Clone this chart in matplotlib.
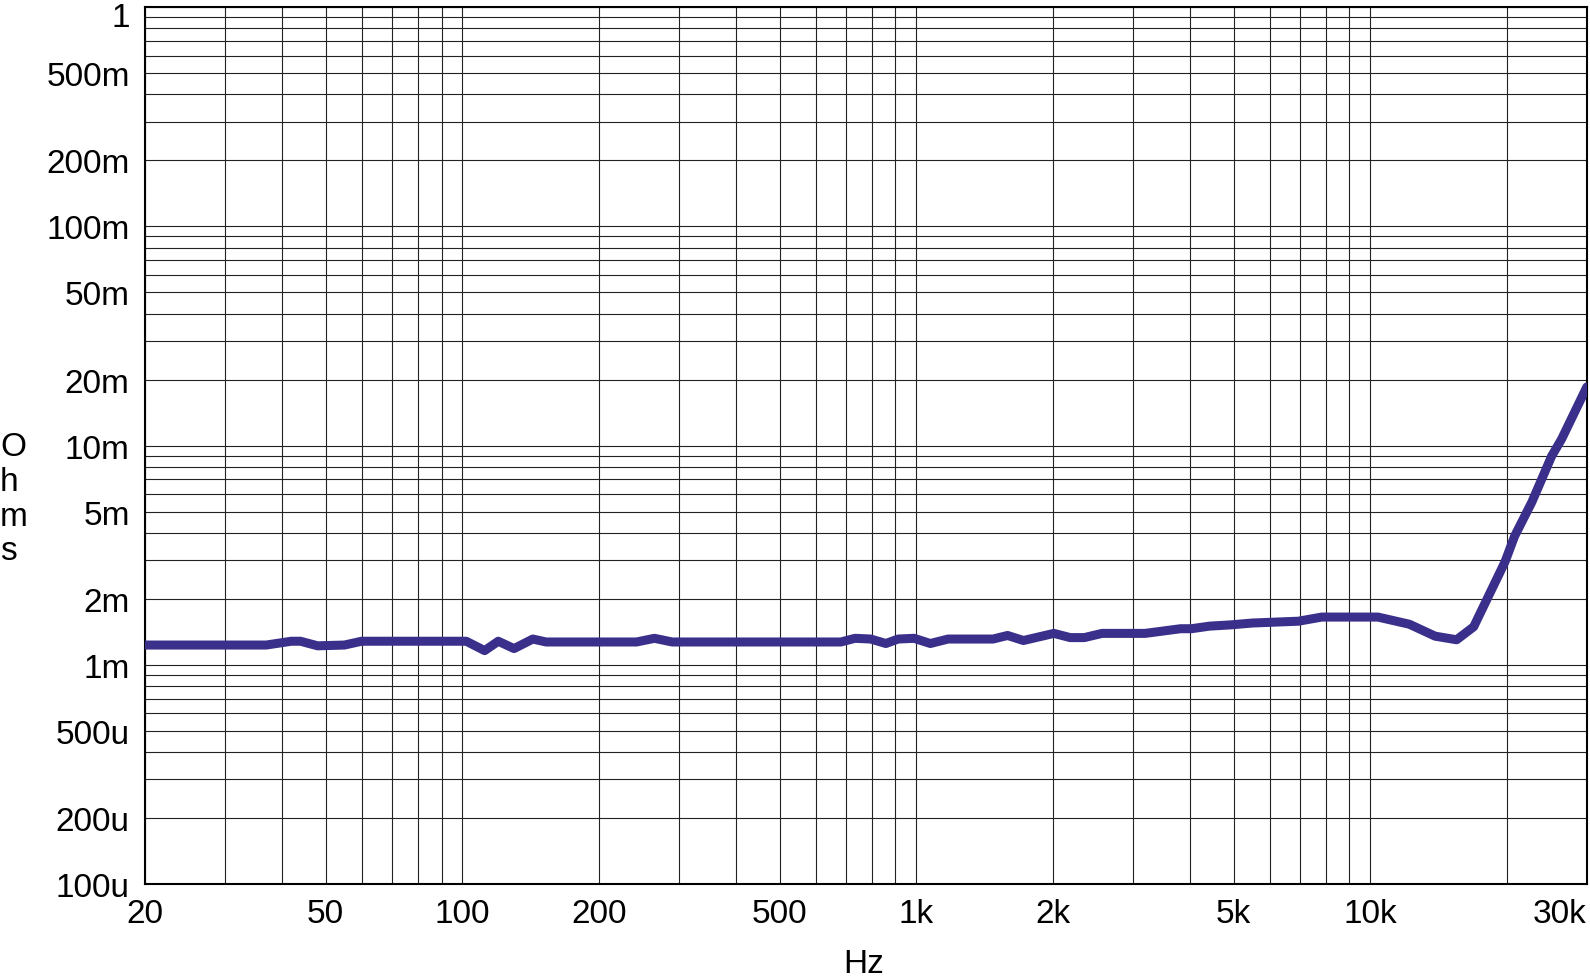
import numpy as np
import matplotlib
matplotlib.use("Agg")
import matplotlib.pyplot as plt
import matplotlib.transforms as mtransforms
from matplotlib.ticker import FixedLocator, NullFormatter

plt.rcParams['font.family'] = ['Liberation Sans', 'DejaVu Sans']

# frequency (Hz) and impedance (Ohms)
freq = [20, 37, 42, 44, 48, 55, 60, 102, 112, 120, 130, 143, 153, 242, 265, 290,
        318, 682, 733, 794, 857, 912, 989, 1074, 1175, 1476, 1589, 1722, 2010,
        2183, 2345, 2566, 3191, 3822, 4038, 4424, 4925, 5500, 6950, 7820, 10400,
        12200, 13900, 15500, 16900, 18100, 19800, 20800, 22700, 25100, 26400, 30000]
ohms_m = [1.23, 1.23, 1.28, 1.28, 1.22, 1.23, 1.28, 1.28, 1.16, 1.28, 1.185, 1.31,
          1.27, 1.27, 1.32, 1.27, 1.27, 1.27, 1.32, 1.31, 1.25, 1.31, 1.32, 1.25,
          1.31, 1.31, 1.36, 1.29, 1.39, 1.33, 1.33, 1.39, 1.39, 1.46, 1.46, 1.50,
          1.52, 1.55, 1.58, 1.65, 1.65, 1.53, 1.35, 1.30, 1.49, 2.0, 2.94, 3.86,
          5.52, 8.95, 10.7, 18.5]
ohms = np.array(ohms_m) * 1e-3

xticks = [20, 50, 100, 200, 500, 1000, 2000, 5000, 10000, 30000]
xlabels = ['20', '50', '100', '200', '500', '1k', '2k', '5k', '10k', '30k']
yticks = [1e-4, 2e-4, 5e-4, 1e-3, 2e-3, 5e-3, 1e-2, 2e-2, 5e-2, 1e-1, 2e-1, 5e-1, 1]
ylabels = ['100u', '200u', '500u', '1m', '2m', '5m', '10m', '20m', '50m',
           '100m', '200m', '500m', '1']

fig = plt.figure(figsize=(15.9, 9.78), dpi=100)
ax = fig.add_axes([0.0912, 0.0951, 0.9068, 0.8967])

ax.plot(freq, ohms, color='#3a2f8a', lw=6.5, solid_capstyle='round',
        solid_joinstyle='round', zorder=3)

ax.set_xscale('log')
ax.set_yscale('log')
ax.set_xlim(20, 30000)
ax.set_ylim(1e-4, 1)

# grid on every 1..9 multiple
xgrid = [m * 10 ** e for e in range(1, 5) for m in range(1, 10)
         if 20 <= m * 10 ** e <= 30000]
ygrid = [m * 10.0 ** e for e in range(-4, 1) for m in range(1, 10)
         if 1e-4 <= m * 10.0 ** e <= 1]
for gx in xgrid:
    ax.axvline(gx, color='#222222', lw=0.8, zorder=1)
for gy in ygrid:
    ax.axhline(gy, color='#222222', lw=0.8, zorder=1)

ax.xaxis.set_major_locator(FixedLocator(xticks))
ax.xaxis.set_minor_formatter(NullFormatter())
ax.xaxis.set_minor_locator(FixedLocator([]))
ax.set_xticklabels(xlabels)
ax.yaxis.set_major_locator(FixedLocator(yticks))
ax.yaxis.set_minor_locator(FixedLocator([]))
ax.set_yticklabels(ylabels)

ax.tick_params(axis='both', length=0, labelsize=24)
ax.tick_params(axis='x', pad=10)
ax.tick_params(axis='y', pad=11)
ax.get_xticklabels()[-1].set_horizontalalignment('right')

# top label "1" sits a little lower so it is not cut off
top_lab = ax.get_yticklabels()[-1]
top_lab.set_transform(top_lab.get_transform() +
                      mtransforms.ScaledTranslation(0, -0.07, fig.dpi_scale_trans))

for sp in ax.spines.values():
    sp.set_linewidth(1.5)
    sp.set_color('black')

fig.text(0.543, 0.0133, 'Hz', fontsize=24, ha='center', va='center')
fig.text(0.0, 0.489, 'O\nh\nm\ns', fontsize=24, ha='left', va='center',
         linespacing=1.15)

fig.savefig('out.png', dpi=100)
